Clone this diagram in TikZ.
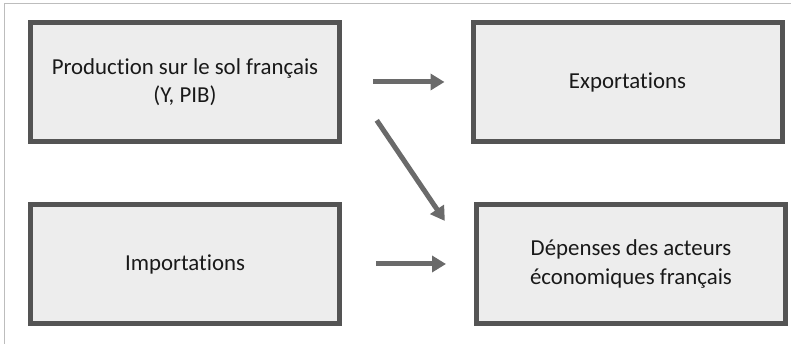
\documentclass[tikz,border=0pt]{standalone}
\usepackage{fontspec}
\setmainfont{Carlito}[Ligatures = NoCommon]
\usetikzlibrary{arrows.meta}

\definecolor{cadre}{HTML}{BDBDBD}
\definecolor{bord}{HTML}{545454}
\definecolor{fond}{HTML}{EDEDED}
\definecolor{fleche}{HTML}{6A6A6A}

\begin{document}
\begin{tikzpicture}[
    boite/.style = {draw = bord, fill = fond, line width = 0.1cm,
      minimum width = 6.18cm, minimum height = 2.38cm, align = center,
      text = black!90, font = \fontsize{13pt}{16pt}\selectfont},
    lien/.style = {draw = fleche, line width = 0.1cm,
      -{Triangle[length = 0.28cm, width = 0.32cm]}}
  ]
  \pgfmathsetmacro{\xg}{3.70}
  \pgfmathsetmacro{\xd}{12.59}
  \pgfmathsetmacro{\yh}{-1.64}
  \pgfmathsetmacro{\yb}{-5.28}

  \useasboundingbox (0, 0) rectangle (15.82, -6.88);
  \draw[cadre, line width = 0.02cm] (0.08, -6.88) -- (0.08, -0.08) -- (15.82, -0.08);

  \node[boite] (prod) at (\xg, \yh) {Production sur le sol français\\(Y, PIB)};
  \node[boite] (imp) at (\xg, \yb) {Importations};
  \node[boite] (exp) at (\xd - 0.04, \yh) {Exportations};
  \node[boite] (dep) at (\xd + 0.03, \yb) {Dépenses des acteurs\\économiques français};

  \draw[lien, shorten <= 0.62cm, shorten >= 0.52cm] (prod.east) -- (exp.west);
  \draw[lien, shorten <= 0.68cm, shorten >= 0.56cm] (imp.east) -- (dep.west);
  \draw[lien, shorten <= 1.24cm, shorten >= 1.04cm]
  ([yshift = 0.26cm]prod.east) -- (dep.west); %oblique
\end{tikzpicture}
\end{document}
